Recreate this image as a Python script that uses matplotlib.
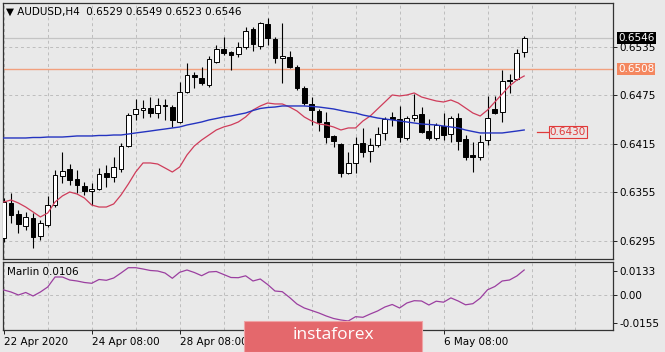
import numpy as np
import matplotlib
matplotlib.use('Agg')
import matplotlib.pyplot as plt
from matplotlib.patches import Rectangle

# AUDUSD H4 candles
opens = [0.62987, 0.63420, 0.63284, 0.63136, 0.63235, 0.63012, 0.63148, 0.63396, 0.63755, 0.63841,
         0.63717, 0.63630, 0.63568, 0.63593, 0.63791, 0.63742, 0.63840, 0.64125, 0.64521, 0.64571,
         0.64595, 0.64533, 0.64633, 0.64608, 0.64422, 0.64793, 0.65004, 0.64967, 0.64880, 0.65164,
         0.65325, 0.65288, 0.65263, 0.65350, 0.65572, 0.65362, 0.65634, 0.65449, 0.65214, 0.65226,
         0.65102, 0.64843, 0.64645, 0.64558, 0.64422, 0.64249, 0.64150, 0.63791, 0.63915, 0.64162,
         0.64063, 0.64138, 0.64286, 0.64484, 0.64459, 0.64224, 0.64472, 0.64521, 0.64311, 0.64224,
         0.64373, 0.64274, 0.64472, 0.64212, 0.64014, 0.63989, 0.64200, 0.64583, 0.64546, 0.64942,
         0.64954, 0.6529]
highs = [0.63482, 0.63544, 0.63334, 0.63309, 0.63297, 0.63210, 0.63507, 0.63828, 0.64051, 0.63903,
         0.63828, 0.63680, 0.63667, 0.63853, 0.63890, 0.63989, 0.64162, 0.64533, 0.64706, 0.64694,
         0.64731, 0.64719, 0.64706, 0.64633, 0.64917, 0.65152, 0.65040, 0.65102, 0.65238, 0.65375,
         0.65473, 0.65300, 0.65412, 0.65597, 0.65597, 0.65660, 0.65709, 0.65473, 0.65647, 0.65300,
         0.65127, 0.64868, 0.64731, 0.64583, 0.64546, 0.64261, 0.64162, 0.64051, 0.64237, 0.64348,
         0.64224, 0.64360, 0.64484, 0.64546, 0.64620, 0.64496, 0.64768, 0.64608, 0.64459, 0.64410,
         0.64533, 0.64496, 0.64533, 0.64261, 0.64175, 0.64261, 0.64744, 0.64744, 0.65065, 0.65016,
         0.65325, 0.6549]
lows = [0.62938, 0.63173, 0.63049, 0.63086, 0.62863, 0.62962, 0.63123, 0.63371, 0.63667, 0.63643,
        0.63544, 0.63519, 0.63396, 0.63581, 0.63618, 0.63680, 0.63803, 0.64113, 0.64447, 0.64472,
        0.64484, 0.64472, 0.64447, 0.64360, 0.64410, 0.64781, 0.64842, 0.64880, 0.64855, 0.65152,
        0.65251, 0.65065, 0.65226, 0.65325, 0.65300, 0.65325, 0.65375, 0.65152, 0.64905, 0.65090,
        0.64818, 0.64633, 0.64385, 0.64311, 0.64162, 0.64113, 0.63742, 0.63779, 0.63791, 0.63989,
        0.63927, 0.64113, 0.64200, 0.64373, 0.64175, 0.64200, 0.64434, 0.64286, 0.64200, 0.64200,
        0.64200, 0.64175, 0.64076, 0.63952, 0.63803, 0.63952, 0.64138, 0.64521, 0.64422, 0.64781,
        0.64942, 0.6523]
closes = [0.63432, 0.63272, 0.63160, 0.63247, 0.63000, 0.63173, 0.63396, 0.63767, 0.63816, 0.63705,
          0.63643, 0.63568, 0.63593, 0.63779, 0.63742, 0.63865, 0.64125, 0.64509, 0.64583, 0.64595,
          0.64533, 0.64633, 0.64620, 0.64447, 0.64793, 0.65004, 0.64979, 0.64905, 0.65201, 0.65325,
          0.65275, 0.65251, 0.65350, 0.65548, 0.65387, 0.65647, 0.65461, 0.65214, 0.65238, 0.65102,
          0.64843, 0.64657, 0.64571, 0.64422, 0.64237, 0.64187, 0.63791, 0.63915, 0.64150, 0.64051,
          0.64138, 0.64274, 0.64459, 0.64459, 0.64237, 0.64472, 0.64509, 0.64298, 0.64224, 0.64385,
          0.64261, 0.64472, 0.64187, 0.63989, 0.63989, 0.64175, 0.64472, 0.64533, 0.64929, 0.64929,
          0.65276, 0.6546]

ma_fast = [0.63432, 0.63457, 0.63420, 0.63370, 0.63309, 0.63247, 0.63296, 0.63432, 0.63507, 0.63556,
           0.63531, 0.63482, 0.63395, 0.63370, 0.63370, 0.63408, 0.63519, 0.63655, 0.63803, 0.63915,
           0.63915, 0.63902, 0.63853, 0.63803, 0.63865, 0.64014, 0.64125, 0.64199, 0.64261, 0.64323,
           0.64360, 0.64385, 0.64422, 0.64484, 0.64570, 0.64620, 0.64657, 0.64645, 0.64645, 0.64607,
           0.64558, 0.64484, 0.64434, 0.64397, 0.64385, 0.64360, 0.64323, 0.64348, 0.64348, 0.64434,
           0.64496, 0.64583, 0.64669, 0.64756, 0.64744, 0.64756, 0.64781, 0.64731, 0.64706, 0.64682,
           0.64669, 0.64694, 0.64657, 0.64595, 0.64533, 0.64496, 0.64570, 0.64669, 0.64768, 0.64867,
           0.64941, 0.64991]
ma_slow = [0.64224, 0.64224, 0.64224, 0.64224, 0.64230, 0.64230, 0.64236, 0.64236, 0.64236, 0.64242,
           0.64249, 0.64249, 0.64249, 0.64255, 0.64255, 0.64261, 0.64261, 0.64273, 0.64286, 0.64298,
           0.64310, 0.64323, 0.64335, 0.64348, 0.64360, 0.64385, 0.64403, 0.64422, 0.64447, 0.64465,
           0.64484, 0.64496, 0.64515, 0.64533, 0.64564, 0.64589, 0.64601, 0.64607, 0.64620, 0.64620,
           0.64620, 0.64620, 0.64614, 0.64607, 0.64595, 0.64583, 0.64564, 0.64546, 0.64533, 0.64508,
           0.64490, 0.64471, 0.64459, 0.64447, 0.64434, 0.64422, 0.64409, 0.64397, 0.64391, 0.64385,
           0.64372, 0.64360, 0.64348, 0.64323, 0.64304, 0.64286, 0.64286, 0.64286, 0.64286, 0.64298,
           0.64310, 0.64323]
marlin = [0.00274, 0.00164, 0.0, 0.00137, -0.00055, 0.00164, 0.00438, 0.00986, 0.00986, 0.00821,
          0.00767, 0.00685, 0.00641, 0.00849, 0.00805, 0.00931, 0.01205, 0.01495, 0.01495, 0.01424,
          0.01342, 0.01314, 0.01205, 0.00915, 0.01243, 0.01369, 0.01232, 0.01057, 0.01260, 0.01287,
          0.01123, 0.00958, 0.00947, 0.01051, 0.00767, 0.00876, 0.00575, 0.00219, 0.00181, -0.00137,
          -0.00493, -0.00712, -0.00849, -0.00986, -0.01150, -0.01287, -0.01369, -0.01424, -0.01188, -0.01221,
          -0.01041, -0.00876, -0.00657, -0.00520, -0.00712, -0.00438, -0.00312, -0.00329, -0.00548, -0.00340,
          -0.00394, -0.00159, -0.00329, -0.00537, -0.00476, -0.00175, 0.00285, 0.00465, 0.00767, 0.00821,
          0.01041, 0.01369]

price_ticks = [0.6295, 0.6355, 0.6415, 0.6475, 0.6535]
marlin_ticks = [-0.0155, 0.0, 0.0133]
# the labels at bars 36 and 48 sit under the watermark in the original
date_pos = [0, 12, 24, 60]
date_labels = ['22 Apr 2020', '24 Apr 08:00', '28 Apr 08:00', '6 May 08:00']
level = 0.6508
ma_label = 0.6430

bg = '#E9E9E9'
grid_c = '#BDBDBD'
frame_c = '#333333'
plt.rcParams['font.family'] = ['DejaVu Sans']

W, H = 665, 352
fig = plt.figure(figsize=(W / 100, H / 100), dpi=100, facecolor=bg)
ax = fig.add_axes([3 / W, 1 - 259 / H, 609.5 / W, 256.5 / H], facecolor=bg)
ax2 = fig.add_axes([3 / W, 1 - 330 / H, 609.5 / W, 68 / H], facecolor=bg)

x = np.arange(len(closes))
o = np.array(opens); c = np.array(closes)
up = c >= o
for a in (ax, ax2):
    a.set_xlim(-0.1, 83.05)
    for g in range(0, 84, 6):
        a.axvline(g, color=grid_c, lw=0.7, ls=(0, (3, 3)), zorder=0)
    for s in a.spines.values():
        s.set_color(frame_c)
        s.set_linewidth(0.9)
    a.yaxis.tick_right()
    a.tick_params(axis='y', length=3, width=0.6, pad=2, labelsize=7.5, colors='black')

# main pane
ax.set_ylim(0.62727, 0.65900)
for p in price_ticks:
    ax.axhline(p, color=grid_c, lw=0.7, ls=(0, (3, 3)), zorder=0)
ax.axhline(closes[-1], color='#C4C4C4', lw=0.9, zorder=1)
ax.axhline(level, color='#F2A07E', lw=1.0, zorder=1)

ax.vlines(x, lows, highs, color='black', lw=0.8, zorder=2)
body_h = np.maximum(np.abs(c - o), 0.00002)
ax.bar(x[up], body_h[up], bottom=np.minimum(o, c)[up], width=0.66,
       color='white', edgecolor='black', linewidth=0.7, zorder=3)
ax.bar(x[~up], body_h[~up], bottom=np.minimum(o, c)[~up], width=0.66,
       color='black', edgecolor='black', linewidth=0.7, zorder=3)

ax.plot(x, ma_fast, color='#CF3C5A', lw=0.9, zorder=4)
ax.plot(x, ma_slow, color='#2433C0', lw=1.0, zorder=4)

ax.set_xticks([])
ax.set_yticks(price_ticks, [f'{p:.4f}' for p in price_ticks])

ax.text(0.005, 0.963, '\u25bc AUDUSD,H4  0.6529 0.6549 0.6523 0.6546', transform=ax.transAxes,
        fontsize=7.5, va='center', ha='left', color='black')

# price tags on the axis
ax.text(1.009, closes[-1], f'{closes[-1]:.4f}', transform=ax.get_yaxis_transform(),
        fontsize=7.5, color='white', va='center', ha='left',
        bbox=dict(boxstyle='square,pad=0.12', fc='black', ec='none'), clip_on=False, zorder=6)
ax.text(1.009, level, f'{level:.4f}', transform=ax.get_yaxis_transform(),
        fontsize=7.5, color='white', va='center', ha='left',
        bbox=dict(boxstyle='square,pad=0.12', fc='#F4875F', ec='none'), clip_on=False, zorder=6)

# label at the end of the slow average
ax.plot([72.8, 74.4], [ma_label, ma_label], color='#E03A3A', lw=0.9, zorder=5)
ax.text(74.5, ma_label, f'{ma_label:.4f}', fontsize=7.5, color='#E03A3A', va='center', ha='left',
        bbox=dict(boxstyle='square,pad=0.12', fc='#ECE4E4', ec='#E03A3A', lw=0.8), zorder=5)

# Marlin pane
ax2.set_ylim(-0.01917, 0.01807)
ax2.axhline(0, color=grid_c, lw=0.7, ls=(0, (3, 3)), zorder=0)
ax2.plot(x, marlin, color='#9B3FA0', lw=0.9, zorder=3)
ax2.set_yticks(marlin_ticks, ['-0.0155', '0.00', '0.0133'])
ax2.set_xticks(date_pos, date_labels)
ax2.tick_params(axis='x', length=3, width=0.6, pad=2, labelsize=7.5, colors='black')
for lbl in ax2.get_xticklabels():
    lbl.set_horizontalalignment('left')
ax2.text(0.006, 0.853, 'Marlin 0.0106', transform=ax2.transAxes, fontsize=7.5,
         va='center', ha='left', color='black')

# watermark
fig.patches.append(Rectangle((244 / W, 0), 178 / W, 31.5 / H, transform=fig.transFigure,
                             fc='#E4686C', ec='#EFA3A5', lw=0.8, zorder=10))
fig.text(333 / W, 1 - 335 / H, 'instaforex', fontsize=12.5, color='white', ha='center',
         va='center', family=['Open Sans', 'DejaVu Sans'], zorder=11)

fig.savefig('out.png', dpi=100, facecolor=bg)
